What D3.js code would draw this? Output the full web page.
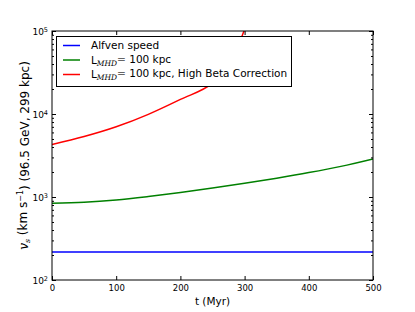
<!DOCTYPE html>
<html>
<head>
<meta charset="utf-8">
<script src="https://d3js.org/d3.v7.min.js"></script>
<style>
  body { margin: 0; background: #fff; }
  text { font-family: "DejaVu Sans", sans-serif; fill: #000; }
</style>
</head>
<body>
<svg width="415" height="312"></svg>
<script>
// data (t in Myr, v in km/s)
var tAlfven = [0, 500];
var vAlfven = [217, 217];

var tMhd = [0, 50, 100, 150, 200, 250, 300, 350, 400, 450, 500];
var vMhd = [840, 863, 920, 1014, 1135, 1282, 1462, 1687, 1968, 2339, 2877];

var tBeta = [0, 50, 100, 150, 200, 250, 260, 270, 280, 290, 300];
var vBeta = [4300, 5350, 7010, 9910, 15000, 23500, 27500, 34000, 45000, 66000, 105000];

var xTicks = [0, 100, 200, 300, 400, 500];
var yDecades = [2, 3, 4, 5];

var series = [
  {name: "Alfven speed", t: tAlfven, v: vAlfven, color: "#0000ff"},
  {name: "mhd", t: tMhd, v: vMhd, color: "#008000"},
  {name: "beta", t: tBeta, v: vBeta, color: "#ff0000"}
];

var svg = d3.select("svg");
var pLeft = 52, pRight = 373, pTop = 31, pBottom = 280;

var x = d3.scaleLinear().domain([0, 500]).range([pLeft, pRight]);
var y = d3.scaleLog().domain([100, 1e5]).range([pBottom, pTop]);

svg.append("clipPath").attr("id", "clip")
  .append("rect").attr("x", pLeft).attr("y", pTop)
  .attr("width", pRight - pLeft).attr("height", pBottom - pTop);

var line = d3.line()
  .x(function(d) { return x(d[0]); })
  .y(function(d) { return y(d[1]); })
  .curve(d3.curveMonotoneX);

svg.append("g").attr("clip-path", "url(#clip)")
  .selectAll("path")
  .data(series)
  .enter().append("path")
  .attr("fill", "none")
  .attr("stroke", function(d) { return d.color; })
  .attr("stroke-width", 1.5)
  .attr("d", function(d) { return line(d.t.map(function(t, i) { return [t, d.v[i]]; })); });

// minor tick values
var minor = [];
yDecades.slice(0, -1).forEach(function(e) {
  for (var k = 2; k <= 9; k++) minor.push(k * Math.pow(10, e));
});

function noLabels(g) { g.selectAll("text").remove(); g.select(".domain").remove(); }

// x axes (ticks inward)
svg.append("g").attr("transform", "translate(0," + pBottom + ")")
  .call(d3.axisBottom(x).tickValues(xTicks).tickSizeInner(-4).tickSizeOuter(0).tickPadding(5))
  .call(function(g) {
    g.select(".domain").remove();
    g.selectAll("text").style("font-size", "8.5px").attr("fill", "#000");
  });
svg.append("g").attr("transform", "translate(0," + pTop + ")")
  .call(d3.axisTop(x).tickValues(xTicks).tickSizeInner(-4).tickSizeOuter(0))
  .call(noLabels);

// y axes
var yl = svg.append("g").attr("transform", "translate(" + pLeft + ",0)")
  .call(d3.axisLeft(y).tickValues(yDecades.map(function(e) { return Math.pow(10, e); }))
    .tickSizeInner(-4).tickSizeOuter(0).tickPadding(4).tickFormat(""));
yl.select(".domain").remove();
yl.selectAll(".tick").each(function(d) {
  var t = d3.select(this).select("text")
    .attr("dy", "0.35em").style("font-size", "9px").attr("fill", "#000");
  t.append("tspan").text("10");
  t.append("tspan").attr("dy", "-0.45em").style("font-size", "6.5px").text(Math.round(Math.log10(d)));
});
svg.append("g").attr("transform", "translate(" + pLeft + ",0)")
  .call(d3.axisLeft(y).tickValues(minor).tickSizeInner(-2).tickSizeOuter(0)).call(noLabels);
svg.append("g").attr("transform", "translate(" + pRight + ",0)")
  .call(d3.axisRight(y).tickValues(yDecades.map(function(e) { return Math.pow(10, e); }))
    .tickSizeInner(-4).tickSizeOuter(0)).call(noLabels);
svg.append("g").attr("transform", "translate(" + pRight + ",0)")
  .call(d3.axisRight(y).tickValues(minor).tickSizeInner(-2).tickSizeOuter(0)).call(noLabels);

// frame
svg.append("rect").attr("x", pLeft).attr("y", pTop)
  .attr("width", pRight - pLeft).attr("height", pBottom - pTop)
  .attr("fill", "none").attr("stroke", "#000").attr("stroke-width", 1);

// axis labels
svg.append("text").attr("x", (pLeft + pRight) / 2).attr("y", 305)
  .attr("text-anchor", "middle").style("font-size", "10.5px").text("t (Myr)");

var ylab = svg.append("text")
  .attr("transform", "translate(28," + ((pTop + pBottom) / 2) + ") rotate(-90)")
  .attr("text-anchor", "middle").style("font-size", "12px");
ylab.append("tspan").style("font-family", "'DejaVu Serif', serif").style("font-style", "italic").text("v");
ylab.append("tspan").attr("dy", "0.3em").style("font-size", "8px")
  .style("font-family", "'DejaVu Serif', serif").style("font-style", "italic").text("s");
ylab.append("tspan").attr("dy", "-0.3em").text(" (km s");
ylab.append("tspan").attr("dy", "-0.45em").style("font-size", "8px").text("\u22121");
ylab.append("tspan").attr("dy", "0.45em").text(") (96.5 GeV, 299 kpc)");

// legend
var lg = svg.append("g");
lg.append("rect").attr("x", 56.5).attr("y", 36.5).attr("width", 235).attr("height", 50)
  .attr("fill", "#fff").attr("stroke", "#000").attr("stroke-width", 1);
var rows = lg.selectAll("g.row").data(series).enter().append("g")
  .attr("transform", function(d, i) { return "translate(0," + (45.5 + i * 14.5) + ")"; });
rows.append("line").attr("x1", 63).attr("x2", 80).attr("y1", 0).attr("y2", 0)
  .attr("stroke", function(d) { return d.color; }).attr("stroke-width", 1.5);
rows.each(function(d, i) {
  var t = d3.select(this).append("text").attr("x", 91).attr("dy", "0.35em").style("font-size", "10.5px");
  if (i === 0) { t.text(d.name); return; }
  t.append("tspan").text("L");
  t.append("tspan").attr("dy", "0.3em").style("font-size", "7.5px")
    .style("font-family", "'DejaVu Serif', serif").style("font-style", "italic").text("MHD");
  t.append("tspan").attr("dy", "-0.3em").attr("fill", "#666").text("=");
  t.append("tspan").text(i === 1 ? " 100 kpc" : " 100 kpc, High Beta Correction");
});
</script>
</body>
</html>
